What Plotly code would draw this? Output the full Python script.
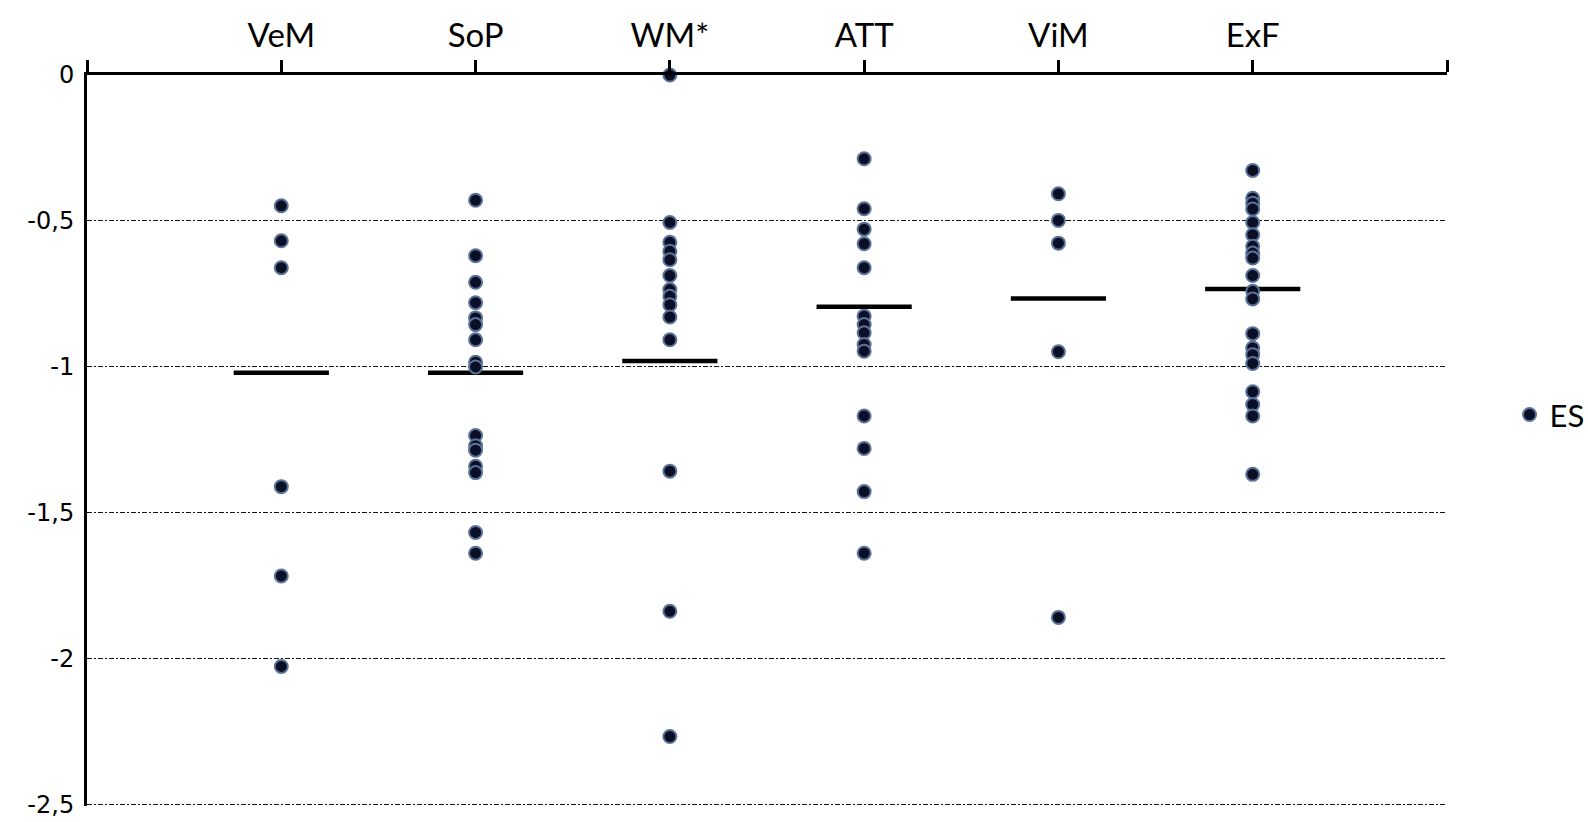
import plotly.graph_objects as go

categories = ["VeM", "SoP", "WM*", "ATT", "ViM", "ExF"]
cat_pos = [1, 2, 3, 4, 5, 6]

es_vem = [-0.448, -0.568, -0.660, -1.410, -1.716, -2.026]
es_sop = [-0.429, -0.619, -0.710, -0.780, -0.832, -0.855, -0.907, -0.984, -1.000,
          -1.235, -1.270, -1.285, -1.340, -1.362, -1.567, -1.638]
es_wm = [0.0, -0.505, -0.573, -0.604, -0.633, -0.687, -0.735, -0.758, -0.787,
         -0.829, -0.907, -1.357, -1.837, -2.266]
es_att = [-0.287, -0.458, -0.528, -0.578, -0.660, -0.826, -0.855, -0.883, -0.923,
          -0.946, -1.168, -1.279, -1.427, -1.638]
es_vim = [-0.407, -0.498, -0.576, -0.948, -1.858]
es_exf = [-0.327, -0.422, -0.439, -0.459, -0.505, -0.547, -0.587, -0.610, -0.627,
          -0.687, -0.741, -0.767, -0.886, -0.935, -0.958, -0.988, -1.085, -1.129,
          -1.168, -1.368]

mean_values = [-1.020, -1.020, -0.980, -0.794, -0.766, -0.733]

y_tickvals = [0, -0.5, -1, -1.5, -2, -2.5]
y_ticktext = ["0", "-0,5", "-1", "-1,5", "-2", "-2,5"]

series = [es_vem, es_sop, es_wm, es_att, es_vim, es_exf]
xs, ys = [], []
for pos, vals in zip(cat_pos, series):
    xs += [pos] * len(vals)
    ys += vals

fig = go.Figure()
fig.add_trace(go.Scatter(
    x=cat_pos, y=mean_values, mode="markers", showlegend=False,
    hoverinfo="skip", cliponaxis=False,
    marker=dict(symbol="line-ew", size=68, color="black",
                line=dict(color="black", width=4.5)),
))
fig.add_trace(go.Scatter(
    x=xs, y=ys, mode="markers", name="ES", cliponaxis=False,
    marker=dict(symbol="circle", size=13, color="#0a0f26",
                line=dict(color="#5b7298", width=2)),
))

fig.update_layout(
    width=1588, height=822,
    margin=dict(l=87, r=141, t=75, b=16, autoexpand=False),
    paper_bgcolor="white", plot_bgcolor="white",
    showlegend=True,
    legend=dict(x=1.046, y=0.535, xanchor="left", yanchor="middle",
                font=dict(family="Lato", size=31, color="black"),
                bgcolor="rgba(0,0,0,0)", itemwidth=30),
    xaxis=dict(
        side="top", range=[0, 7],
        tickmode="array", tickvals=[0] + cat_pos + [7],
        ticktext=[""] + categories + [""],
        ticks="outside", ticklen=12, tickwidth=3, tickcolor="black",
        showline=True, linewidth=3, linecolor="black",
        showgrid=False, zeroline=False,
        tickfont=dict(family="Lato", size=33, color="black"),
        ticklabelstandoff=0,
    ),
    yaxis=dict(
        range=[-2.504, 0],
        tickmode="array", tickvals=y_tickvals, ticktext=y_ticktext,
        ticks="", showline=True, linewidth=3, linecolor="black",
        showgrid=True, gridcolor="#111111", gridwidth=1.3,
        griddash="5px,2px,2px,2px",
        zeroline=False,
        tickfont=dict(family="DejaVu Sans", size=24, color="black"),
        ticklabelstandoff=5,
    ),
)

fig.write_html("out.html")
